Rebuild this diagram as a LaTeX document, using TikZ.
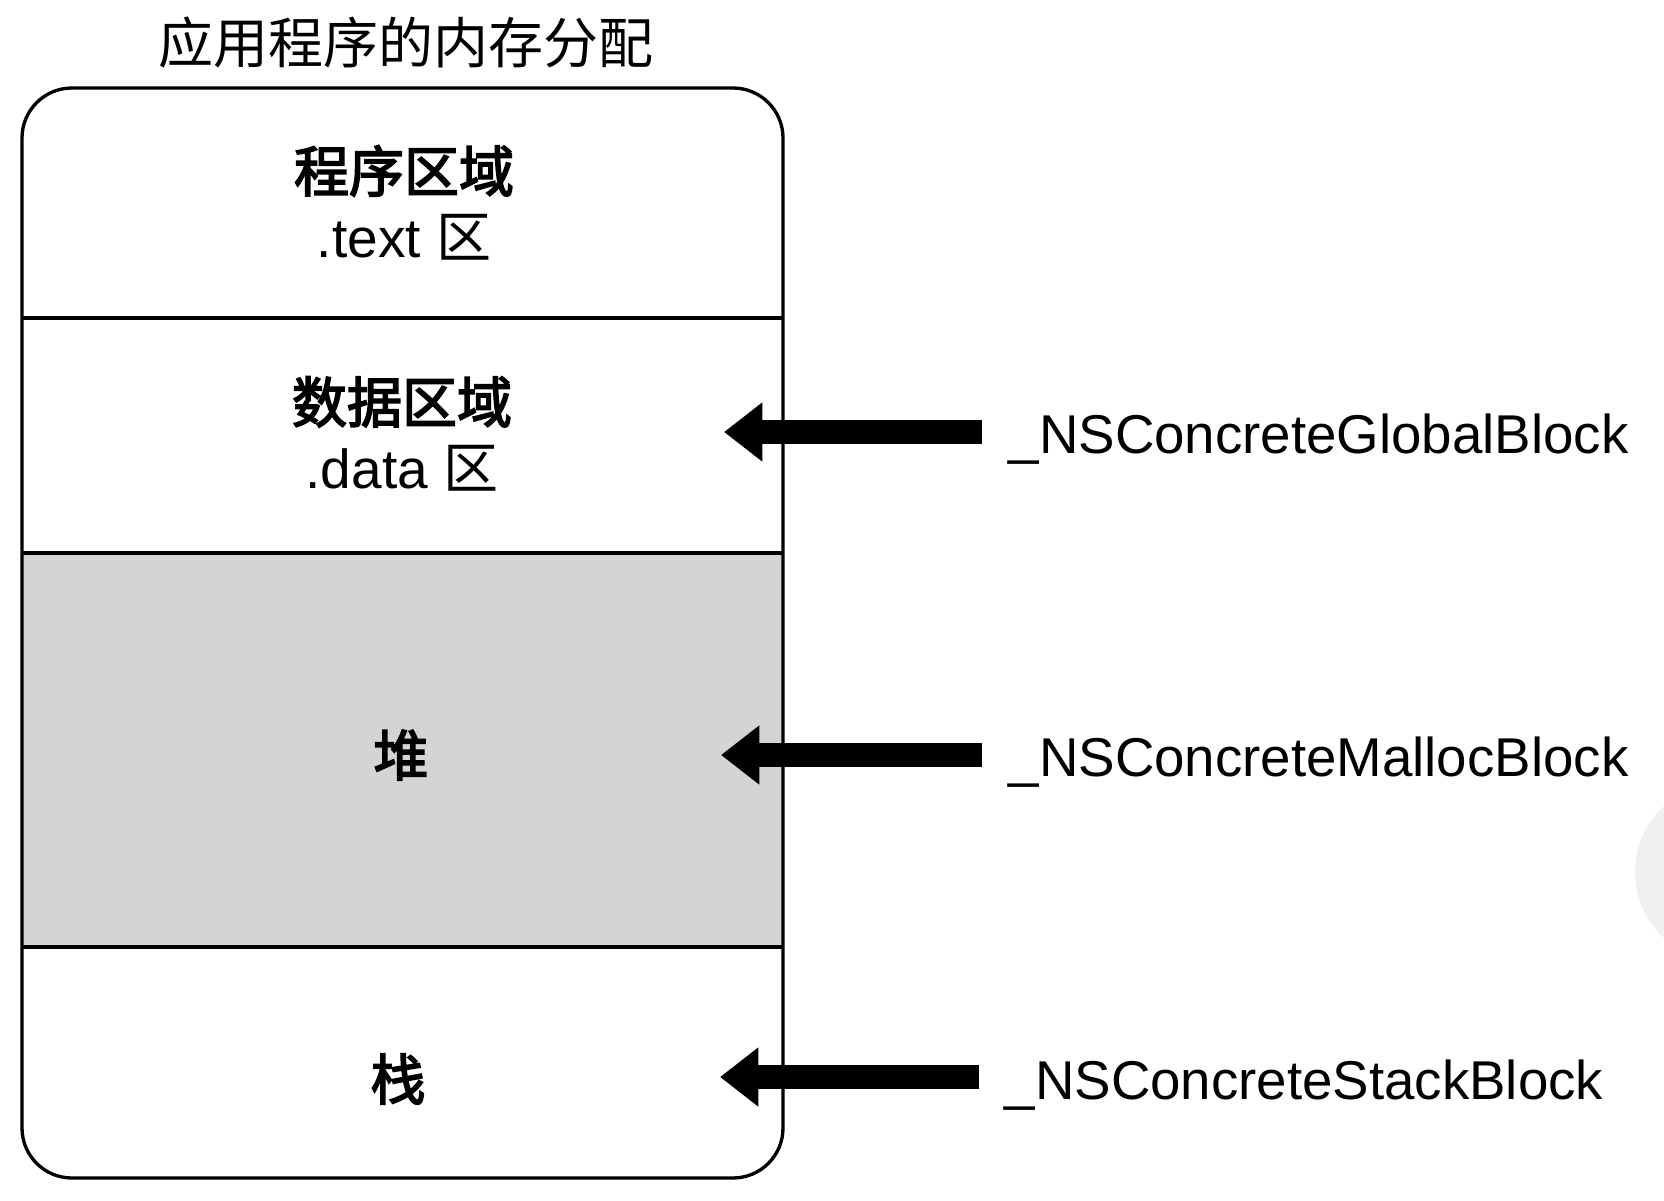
\documentclass[tikz,border=0pt]{standalone}
\usepackage{fontspec}
\setmainfont{Liberation Sans}
\newfontfamily\cjk{Noto Sans CJK SC}
\newfontfamily\cjkb[FakeBold=3]{Noto Sans CJK SC}
\usetikzlibrary{arrows.meta}
\tikzset{
  px/.style={x=0.3pt,y=-0.3pt},
  region/.style={inner sep=0pt,align=center,font=\fontsize{16.5}{19.8}\selectfont},
  blocklabel/.style={anchor=west,inner sep=0pt,font=\fontsize{16.4}{19}\selectfont},
  bigarrow/.style={line width=7pt,-{Triangle[length=11.5pt,width=17pt]}},
  boxline/.style={line width=1pt,draw=black}
}
\begin{document}
\begin{tikzpicture}[px]
\useasboundingbox (0,0) rectangle (1664,1200);
% faint scan shape at right edge
\fill[black!6] (1725,872) circle (90);
% title
\node[region,font=\fontsize{16.5}{19.8}\selectfont\cjk] (title) at (406,43) {应用程序的内存分配};
% heap fill
\fill[black!17] (22,553) rectangle (783,947);
% outer box
\draw[boxline,rounded corners=15pt] (22,88) rectangle (783,1178);
% dividers
\draw[line width=1.2pt] (22,318) -- (783,318);
\draw[line width=1.2pt] (22,553) -- (783,553);
\draw[line width=1.2pt] (22,947) -- (783,947);
% region labels
\node[region] (textarea) at (404,203) {{\cjkb 程序区域}\\.text {\cjk 区}};
\node[region] (dataarea) at (402,434) {{\cjkb 数据区域}\\.data {\cjk 区}};
\node[region] (heap) at (401,755) {\cjkb 堆};
\node[region] (stack) at (398,1079) {\cjkb 栈};
% block labels
\node[blocklabel] (glob) at (1008,439) {\_NSConcreteGlobalBlock};
\node[blocklabel] (mall) at (1008,762) {\_NSConcreteMallocBlock};
\node[blocklabel] (stk) at (1004,1085) {\_NSConcreteStackBlock};
% arrow endpoints
\coordinate (gt) at (982,432);
\coordinate (gh) at (724,432);
\coordinate (mt) at (982,755);
\coordinate (mh) at (721,755);
\coordinate (st) at (979,1077);
\coordinate (sh) at (720,1077);
\draw[bigarrow] (gt) -- (gh);
\draw[bigarrow] (mt) -- (mh);
\draw[bigarrow] (st) -- (sh);
\end{tikzpicture}
\end{document}
